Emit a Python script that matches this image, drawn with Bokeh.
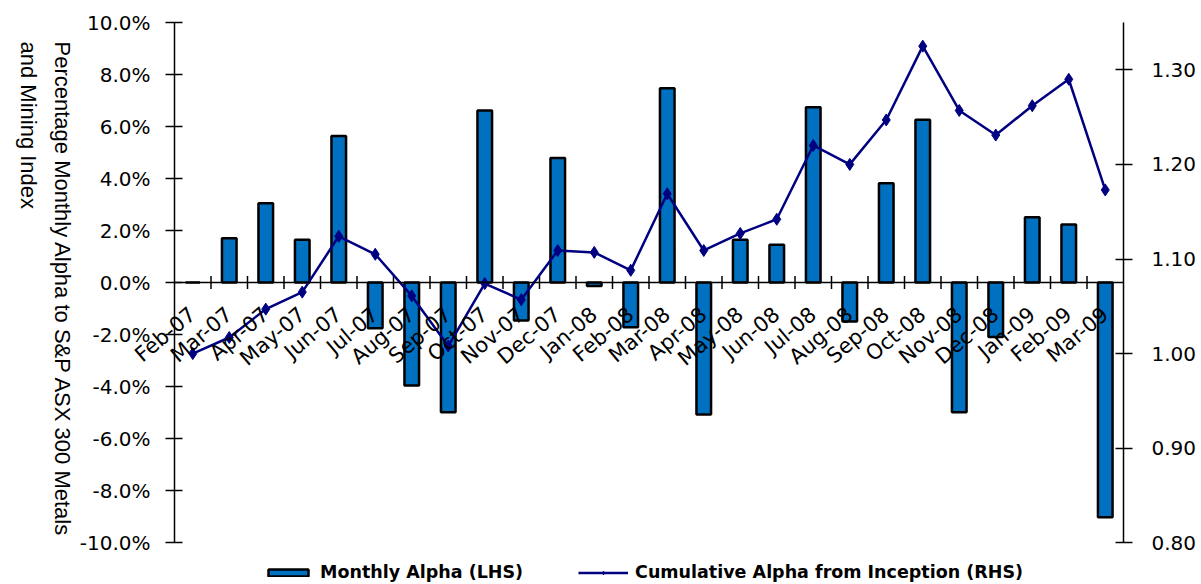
import math
from bokeh.plotting import figure
from bokeh.models import (Range1d, LinearAxis, FixedTicker, NumeralTickFormatter,
                          Label, Legend, LegendItem, ColumnDataSource)
from bokeh.embed import file_html
from bokeh.resources import INLINE

# ---------------- data ----------------
months = ["Feb-07", "Mar-07", "Apr-07", "May-07", "Jun-07", "Jul-07", "Aug-07",
          "Sep-07", "Oct-07", "Nov-07", "Dec-07", "Jan-08", "Feb-08", "Mar-08",
          "Apr-08", "May-08", "Jun-08", "Jul-08", "Aug-08", "Sep-08", "Oct-08",
          "Nov-08", "Dec-08", "Jan-09", "Feb-09", "Mar-09"]
monthly_alpha_pct = [0.0, 1.70, 3.05, 1.64, 5.63, -1.76, -3.96, -4.99, 6.62, -1.46,
                     4.79, -0.13, -1.72, 7.47, -5.08, 1.64, 1.45, 6.74, -1.50, 3.82,
                     6.26, -4.99, -2.10, 2.51, 2.23, -9.03]
cumulative_alpha = [1.000, 1.017, 1.047, 1.065, 1.124, 1.105, 1.061, 1.008, 1.074,
                    1.057, 1.109, 1.107, 1.088, 1.169, 1.109, 1.127, 1.142, 1.220,
                    1.200, 1.247, 1.325, 1.257, 1.231, 1.262, 1.290, 1.173]
left_ticks_pct = [-10, -8, -6, -4, -2, 0, 2, 4, 6, 8, 10]
right_ticks = [0.80, 0.90, 1.00, 1.10, 1.20, 1.30]
right_top = 1.35
series_labels = ["Monthly Alpha (LHS)", "Cumulative Alpha from Inception (RHS)"]
y_title = ["Percentage Monthly Alpha to S&P ASX 300 Metals", "and Mining Index"]

n = len(months)
centers = [i + 0.5 for i in range(n)]
src = ColumnDataSource(dict(
    x=centers,
    alpha=[v / 100.0 for v in monthly_alpha_pct],
    cum=cumulative_alpha,
    zero=[0.0] * n,
))
bounds = ColumnDataSource(dict(x=list(range(1, n)), y=[0.0] * (n - 1)))

FONT = "DejaVu Sans"

# ---------------- geometry (pixels); the frame fills the whole canvas ----------------
W, H = 1201, 582
AX_LEFT_PX = 174.0       # x of the left axis
PX_PER_CAT = 36.5
ZERO_PX = 282.0          # y of 0 %
PX_PER_PCT = 26.0
ONE_PX = 353.1           # y of 1.00 on the right scale
PX_PER_UNIT_R = 946.0

x_lo = -AX_LEFT_PX / PX_PER_CAT
x_hi = (W - AX_LEFT_PX) / PX_PER_CAT
y_lo = -(H - ZERO_PX) / PX_PER_PCT / 100.0
y_hi = ZERO_PX / PX_PER_PCT / 100.0
r_lo = 1.0 - (H - ONE_PX) / PX_PER_UNIT_R
r_hi = 1.0 + ONE_PX / PX_PER_UNIT_R

def px_to_x(px):
    return (px - AX_LEFT_PX) / PX_PER_CAT

def py_to_y(py):
    return (ZERO_PX - py) / PX_PER_PCT / 100.0

p = figure(width=W, height=H, x_range=Range1d(x_lo, x_hi), y_range=Range1d(y_lo, y_hi),
           output_backend="svg", toolbar_location=None, x_axis_location=None,
           y_axis_location="left", min_border=0)
p.outline_line_color = None
p.grid.grid_line_color = None
p.background_fill_color = "white"
p.border_fill_color = "white"
p.extra_y_ranges = {"cum": Range1d(r_lo, r_hi)}

def style_axis(ax, standoff):
    ax.axis_line_width = 1.5
    ax.axis_line_color = "black"
    ax.major_tick_in = 8
    ax.major_tick_out = 9
    ax.major_tick_line_width = 1.5
    ax.major_tick_line_color = "black"
    ax.minor_tick_line_color = None
    ax.major_label_text_font = FONT
    ax.major_label_text_font_size = "20px"
    ax.major_label_text_color = "black"
    ax.major_label_standoff = standoff

ly = p.yaxis[0]
ly.fixed_location = 0
ly.ticker = FixedTicker(ticks=[t / 100.0 for t in left_ticks_pct])
ly.formatter = NumeralTickFormatter(format="0.0%")
ly.bounds = (left_ticks_pct[0] / 100.0, left_ticks_pct[-1] / 100.0)
style_axis(ly, 15)

ry = LinearAxis(y_range_name="cum", fixed_location=n, ticker=FixedTicker(ticks=right_ticks),
                formatter=NumeralTickFormatter(format="0.00"),
                bounds=(right_ticks[0], right_top))
style_axis(ry, 19)
p.add_layout(ry, "right")

# category axis drawn along the 0 % line
xax = LinearAxis(fixed_location=0, bounds=(0, n), ticker=FixedTicker(ticks=centers),
                 major_label_overrides={c: m for c, m in zip(centers, months)})
xax.axis_line_width = 1.5
xax.axis_line_color = "black"
xax.major_tick_line_color = None
xax.major_tick_in = 0
xax.major_tick_out = 0
xax.minor_tick_line_color = None
xax.major_label_orientation = 0.70
xax.major_label_standoff = 29
xax.major_label_text_font = FONT
xax.major_label_text_font_size = "21px"
xax.major_label_text_color = "black"
p.add_layout(xax, "below")

# bars
bars = p.vbar(x="x", top="alpha", bottom="zero", width=0.40, source=src,
              fill_color="#0070C0", line_color="black", line_width=2.5)

# crossing tick marks at category boundaries
p.scatter(x="x", y="y", source=bounds, marker="dash", angle=math.pi / 2, size=13,
          line_color="black", line_width=1.5)

# cumulative line
line_r = p.line(x="x", y="cum", source=src, y_range_name="cum",
                line_color="#000080", line_width=2.5)
pts_r = p.scatter(x="x", y="cum", source=src, y_range_name="cum", marker="diamond",
                  size=12, fill_color="#000080", line_color="#000080")

legend = Legend(items=[LegendItem(label=series_labels[0], renderers=[bars]),
                       LegendItem(label=series_labels[1], renderers=[line_r, pts_r])],
                orientation="horizontal", location=(263, 0), glyph_width=50,
                glyph_height=9, label_standoff=7, spacing=55, padding=2, margin=0,
                border_line_color=None, background_fill_alpha=0,
                label_text_font=FONT, label_text_font_style="bold",
                label_text_color="black",
                label_text_font_size="17.5px", label_height=20)
p.add_layout(legend, "center")

# rotated y title (reads top to bottom)
for txt, px in ((y_title[0], 62), (y_title[1], 28)):
    p.add_layout(Label(x=px_to_x(px), y=py_to_y(41), text=txt, angle=-math.pi / 2,
                       text_align="left", text_baseline="alphabetic",
                       text_font="Liberation Sans", text_font_size="22px",
                       text_color="black"))

open("out.html", "w").write(file_html(p, INLINE))
